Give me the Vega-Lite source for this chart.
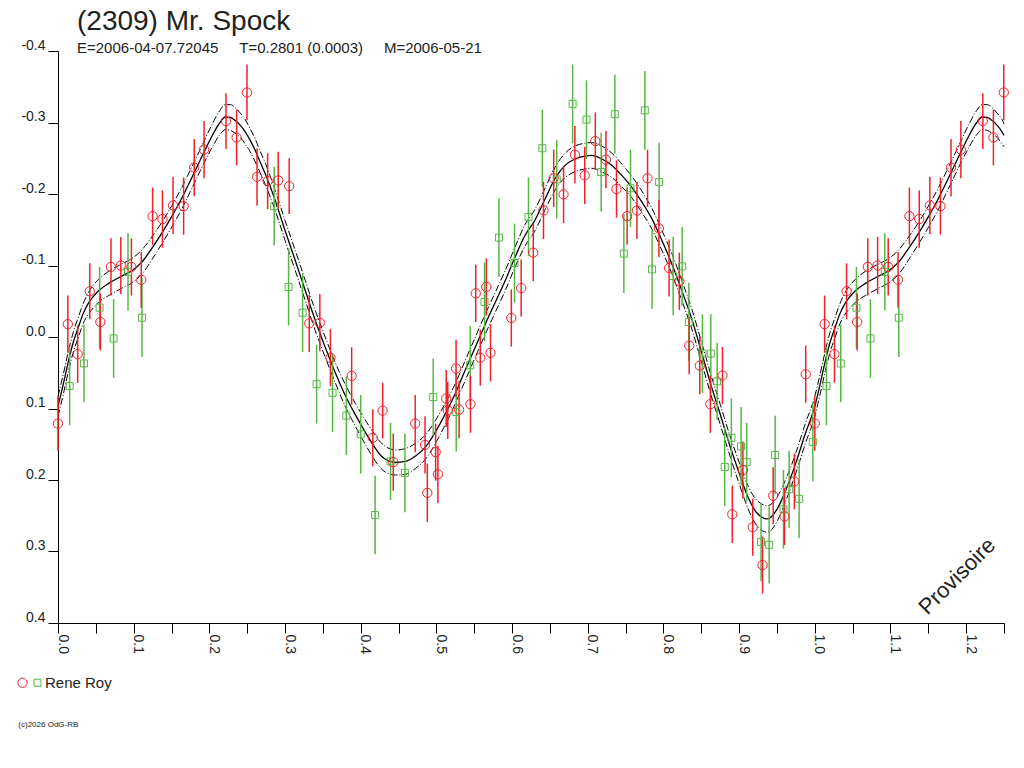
{
  "$schema": "https://vega.github.io/schema/vega-lite/v6.json",
  "description": "Lightcurve of (2309) Mr. Spock, magnitude vs rotational phase.",
  "autosize": "none",
  "width": 946,
  "height": 572,
  "padding": {"left": 58, "top": 51, "right": 20, "bottom": 145},
  "background": "white",
  "title": {
    "text": "(2309) Mr. Spock",
    "subtitle": "E=2006-04-07.72045\u00a0\u00a0\u00a0\u00a0\u00a0T=0.2801 (0.0003)\u00a0\u00a0\u00a0\u00a0\u00a0M=2006-05-21",
    "anchor": "start",
    "frame": "group",
    "dx": 19,
    "offset": -18,
    "font": "Liberation Sans",
    "fontSize": 28,
    "fontWeight": "normal",
    "color": "#222",
    "subtitleFont": "Liberation Sans",
    "subtitleFontSize": 15,
    "subtitleColor": "#222",
    "subtitlePadding": 5
  },
  "datasets": {
    "fit": [
      {"p": 0.000, "m": 0.097, "u": 0.083, "l": 0.111},
      {"p": 0.007, "m": 0.066, "u": 0.052, "l": 0.080},
      {"p": 0.014, "m": 0.033, "u": 0.019, "l": 0.047},
      {"p": 0.020, "m": 0.008, "u": -0.006, "l": 0.022},
      {"p": 0.027, "m": -0.014, "u": -0.028, "l": 0.000},
      {"p": 0.033, "m": -0.032, "u": -0.046, "l": -0.018},
      {"p": 0.040, "m": -0.047, "u": -0.062, "l": -0.032},
      {"p": 0.047, "m": -0.057, "u": -0.073, "l": -0.041},
      {"p": 0.054, "m": -0.065, "u": -0.081, "l": -0.049},
      {"p": 0.067, "m": -0.075, "u": -0.092, "l": -0.058},
      {"p": 0.084, "m": -0.085, "u": -0.102, "l": -0.068},
      {"p": 0.098, "m": -0.093, "u": -0.110, "l": -0.076},
      {"p": 0.111, "m": -0.105, "u": -0.122, "l": -0.088},
      {"p": 0.124, "m": -0.124, "u": -0.140, "l": -0.108},
      {"p": 0.137, "m": -0.145, "u": -0.160, "l": -0.130},
      {"p": 0.150, "m": -0.168, "u": -0.183, "l": -0.153},
      {"p": 0.163, "m": -0.193, "u": -0.208, "l": -0.178},
      {"p": 0.176, "m": -0.221, "u": -0.236, "l": -0.206},
      {"p": 0.190, "m": -0.252, "u": -0.267, "l": -0.237},
      {"p": 0.202, "m": -0.278, "u": -0.294, "l": -0.262},
      {"p": 0.214, "m": -0.300, "u": -0.317, "l": -0.283},
      {"p": 0.221, "m": -0.3075, "u": -0.325, "l": -0.290},
      {"p": 0.228, "m": -0.307, "u": -0.325, "l": -0.289},
      {"p": 0.234, "m": -0.303, "u": -0.321, "l": -0.285},
      {"p": 0.241, "m": -0.296, "u": -0.313, "l": -0.279},
      {"p": 0.2474, "m": -0.287, "u": -0.304, "l": -0.270},
      {"p": 0.254, "m": -0.275, "u": -0.291, "l": -0.259},
      {"p": 0.2606, "m": -0.261, "u": -0.277, "l": -0.245},
      {"p": 0.267, "m": -0.245, "u": -0.260, "l": -0.230},
      {"p": 0.274, "m": -0.228, "u": -0.243, "l": -0.213},
      {"p": 0.287, "m": -0.191, "u": -0.205, "l": -0.177},
      {"p": 0.300, "m": -0.149, "u": -0.163, "l": -0.135},
      {"p": 0.3135, "m": -0.107, "u": -0.121, "l": -0.093},
      {"p": 0.3267, "m": -0.065, "u": -0.079, "l": -0.051},
      {"p": 0.340, "m": -0.023, "u": -0.037, "l": -0.009},
      {"p": 0.353, "m": 0.014, "u": 0.000, "l": 0.028},
      {"p": 0.366, "m": 0.049, "u": 0.035, "l": 0.063},
      {"p": 0.3795, "m": 0.0815, "u": 0.066, "l": 0.097},
      {"p": 0.393, "m": 0.109, "u": 0.093, "l": 0.125},
      {"p": 0.406, "m": 0.133, "u": 0.116, "l": 0.150},
      {"p": 0.419, "m": 0.155, "u": 0.137, "l": 0.173},
      {"p": 0.426, "m": 0.165, "u": 0.147, "l": 0.183},
      {"p": 0.4326, "m": 0.171, "u": 0.153, "l": 0.189},
      {"p": 0.446, "m": 0.1755, "u": 0.158, "l": 0.193},
      {"p": 0.459, "m": 0.174, "u": 0.156, "l": 0.192},
      {"p": 0.472, "m": 0.1667, "u": 0.149, "l": 0.184},
      {"p": 0.4855, "m": 0.154, "u": 0.137, "l": 0.171},
      {"p": 0.4986, "m": 0.133, "u": 0.117, "l": 0.149},
      {"p": 0.512, "m": 0.107, "u": 0.092, "l": 0.122},
      {"p": 0.525, "m": 0.079, "u": 0.065, "l": 0.093},
      {"p": 0.538, "m": 0.0466, "u": 0.033, "l": 0.061},
      {"p": 0.5515, "m": 0.014, "u": 0.000, "l": 0.028},
      {"p": 0.565, "m": -0.019, "u": -0.033, "l": -0.005},
      {"p": 0.578, "m": -0.049, "u": -0.063, "l": -0.035},
      {"p": 0.591, "m": -0.079, "u": -0.093, "l": -0.065},
      {"p": 0.604, "m": -0.112, "u": -0.126, "l": -0.098},
      {"p": 0.617, "m": -0.142, "u": -0.157, "l": -0.127},
      {"p": 0.630, "m": -0.163, "u": -0.178, "l": -0.148},
      {"p": 0.6436, "m": -0.193, "u": -0.208, "l": -0.178},
      {"p": 0.657, "m": -0.222, "u": -0.238, "l": -0.206},
      {"p": 0.670, "m": -0.240, "u": -0.257, "l": -0.223},
      {"p": 0.683, "m": -0.249, "u": -0.267, "l": -0.231},
      {"p": 0.696, "m": -0.253, "u": -0.271, "l": -0.235},
      {"p": 0.705, "m": -0.254, "u": -0.272, "l": -0.236},
      {"p": 0.7186, "m": -0.249, "u": -0.267, "l": -0.231},
      {"p": 0.732, "m": -0.240, "u": -0.257, "l": -0.223},
      {"p": 0.745, "m": -0.226, "u": -0.242, "l": -0.210},
      {"p": 0.758, "m": -0.2097, "u": -0.225, "l": -0.195},
      {"p": 0.7715, "m": -0.189, "u": -0.204, "l": -0.174},
      {"p": 0.7847, "m": -0.1655, "u": -0.180, "l": -0.151},
      {"p": 0.798, "m": -0.135, "u": -0.149, "l": -0.121},
      {"p": 0.811, "m": -0.1026, "u": -0.117, "l": -0.089},
      {"p": 0.8243, "m": -0.065, "u": -0.079, "l": -0.051},
      {"p": 0.8375, "m": -0.025, "u": -0.039, "l": -0.011},
      {"p": 0.850, "m": 0.020, "u": 0.006, "l": 0.034},
      {"p": 0.8625, "m": 0.066, "u": 0.052, "l": 0.080},
      {"p": 0.875, "m": 0.108, "u": 0.094, "l": 0.122},
      {"p": 0.8875, "m": 0.151, "u": 0.137, "l": 0.165},
      {"p": 0.900, "m": 0.190, "u": 0.175, "l": 0.205},
      {"p": 0.9125, "m": 0.226, "u": 0.210, "l": 0.242},
      {"p": 0.925, "m": 0.248, "u": 0.230, "l": 0.266},
      {"p": 0.9375, "m": 0.2545, "u": 0.236, "l": 0.273},
      {"p": 0.950, "m": 0.241, "u": 0.224, "l": 0.258},
      {"p": 0.9625, "m": 0.212, "u": 0.197, "l": 0.227},
      {"p": 0.975, "m": 0.176, "u": 0.162, "l": 0.190},
      {"p": 0.9875, "m": 0.135, "u": 0.121, "l": 0.149},
      {"p": 1.000, "m": 0.097, "u": 0.083, "l": 0.111},
      {"p": 1.007, "m": 0.066, "u": 0.052, "l": 0.080},
      {"p": 1.014, "m": 0.033, "u": 0.019, "l": 0.047},
      {"p": 1.020, "m": 0.008, "u": -0.006, "l": 0.022},
      {"p": 1.027, "m": -0.014, "u": -0.028, "l": 0.000},
      {"p": 1.033, "m": -0.032, "u": -0.046, "l": -0.018},
      {"p": 1.040, "m": -0.047, "u": -0.062, "l": -0.032},
      {"p": 1.047, "m": -0.057, "u": -0.073, "l": -0.041},
      {"p": 1.054, "m": -0.065, "u": -0.081, "l": -0.049},
      {"p": 1.067, "m": -0.075, "u": -0.092, "l": -0.058},
      {"p": 1.084, "m": -0.085, "u": -0.102, "l": -0.068},
      {"p": 1.098, "m": -0.093, "u": -0.110, "l": -0.076},
      {"p": 1.111, "m": -0.105, "u": -0.122, "l": -0.088},
      {"p": 1.124, "m": -0.124, "u": -0.140, "l": -0.108},
      {"p": 1.137, "m": -0.145, "u": -0.160, "l": -0.130},
      {"p": 1.150, "m": -0.168, "u": -0.183, "l": -0.153},
      {"p": 1.163, "m": -0.193, "u": -0.208, "l": -0.178},
      {"p": 1.176, "m": -0.221, "u": -0.236, "l": -0.206},
      {"p": 1.190, "m": -0.252, "u": -0.267, "l": -0.237},
      {"p": 1.202, "m": -0.278, "u": -0.294, "l": -0.262},
      {"p": 1.214, "m": -0.300, "u": -0.317, "l": -0.283},
      {"p": 1.221, "m": -0.3075, "u": -0.325, "l": -0.290},
      {"p": 1.228, "m": -0.307, "u": -0.325, "l": -0.289},
      {"p": 1.234, "m": -0.303, "u": -0.321, "l": -0.285},
      {"p": 1.241, "m": -0.296, "u": -0.313, "l": -0.279},
      {"p": 1.2474, "m": -0.287, "u": -0.304, "l": -0.270},
      {"p": 1.250, "m": -0.282, "u": -0.298, "l": -0.266}
    ],
    "pts": [
      {"p": 0.0154, "m": 0.0685, "e": 0.055, "o": "b"},
      {"p": 0.0343, "m": 0.037, "e": 0.054, "o": "b"},
      {"p": 0.055, "m": -0.041, "e": 0.057, "o": "b"},
      {"p": 0.0735, "m": 0.002, "e": 0.055, "o": "b"},
      {"p": 0.0925, "m": -0.091, "e": 0.054, "o": "b"},
      {"p": 0.111, "m": -0.027, "e": 0.055, "o": "b"},
      {"p": 0.2857, "m": -0.183, "e": 0.055, "o": "b"},
      {"p": 0.3047, "m": -0.070, "e": 0.054, "o": "b"},
      {"p": 0.3232, "m": -0.034, "e": 0.055, "o": "b"},
      {"p": 0.3417, "m": 0.066, "e": 0.055, "o": "b"},
      {"p": 0.3628, "m": 0.078, "e": 0.055, "o": "b"},
      {"p": 0.381, "m": 0.110, "e": 0.055, "o": "b"},
      {"p": 0.400, "m": 0.136, "e": 0.055, "o": "b"},
      {"p": 0.419, "m": 0.249, "e": 0.055, "o": "b"},
      {"p": 0.4394, "m": 0.174, "e": 0.054, "o": "b"},
      {"p": 0.4584, "m": 0.190, "e": 0.055, "o": "b"},
      {"p": 0.4958, "m": 0.084, "e": 0.054, "o": "b"},
      {"p": 0.5262, "m": 0.105, "e": 0.055, "o": "b"},
      {"p": 0.5447, "m": 0.0396, "e": 0.055, "o": "b"},
      {"p": 0.5636, "m": -0.049, "e": 0.055, "o": "b"},
      {"p": 0.5826, "m": -0.139, "e": 0.055, "o": "b"},
      {"p": 0.6032, "m": -0.1035, "e": 0.055, "o": "b"},
      {"p": 0.6217, "m": -0.168, "e": 0.055, "o": "b"},
      {"p": 0.640, "m": -0.264, "e": 0.054, "o": "b"},
      {"p": 0.659, "m": -0.2205, "e": 0.055, "o": "b"},
      {"p": 0.680, "m": -0.326, "e": 0.055, "o": "b"},
      {"p": 0.6983, "m": -0.304, "e": 0.055, "o": "b"},
      {"p": 0.7177, "m": -0.2306, "e": 0.055, "o": "b"},
      {"p": 0.7358, "m": -0.3117, "e": 0.055, "o": "b"},
      {"p": 0.7477, "m": -0.1166, "e": 0.055, "o": "b"},
      {"p": 0.7565, "m": -0.208, "e": 0.054, "o": "b"},
      {"p": 0.7754, "m": -0.317, "e": 0.055, "o": "b"},
      {"p": 0.785, "m": -0.0946, "e": 0.055, "o": "b"},
      {"p": 0.7943, "m": -0.2167, "e": 0.055, "o": "b"},
      {"p": 0.8128, "m": -0.0853, "e": 0.055, "o": "b"},
      {"p": 0.8247, "m": -0.0988, "e": 0.055, "o": "b"},
      {"p": 0.8336, "m": -0.021, "e": 0.055, "o": "b"},
      {"p": 0.8515, "m": 0.0232, "e": 0.055, "o": "b"},
      {"p": 0.8626, "m": 0.0232, "e": 0.055, "o": "b"},
      {"p": 0.871, "m": 0.062, "e": 0.054, "o": "b"},
      {"p": 0.881, "m": 0.1817, "e": 0.055, "o": "b"},
      {"p": 0.8898, "m": 0.141, "e": 0.055, "o": "b"},
      {"p": 0.9026, "m": 0.153, "e": 0.055, "o": "b"},
      {"p": 0.910, "m": 0.175, "e": 0.055, "o": "b"},
      {"p": 0.929, "m": 0.2866, "e": 0.055, "o": "b"},
      {"p": 0.9397, "m": 0.2907, "e": 0.054, "o": "b"},
      {"p": 0.9476, "m": 0.165, "e": 0.055, "o": "b"},
      {"p": 0.9586, "m": 0.241, "e": 0.055, "o": "b"},
      {"p": 0.9661, "m": 0.213, "e": 0.054, "o": "b"},
      {"p": 0.9793, "m": 0.2264, "e": 0.055, "o": "b"},
      {"p": 0.9974, "m": 0.1468, "e": 0.055, "o": "b"},
      {"p": 1.0154, "m": 0.0685, "e": 0.055, "o": "b"},
      {"p": 1.0343, "m": 0.037, "e": 0.054, "o": "b"},
      {"p": 1.055, "m": -0.041, "e": 0.057, "o": "b"},
      {"p": 1.0735, "m": 0.002, "e": 0.055, "o": "b"},
      {"p": 1.0925, "m": -0.091, "e": 0.054, "o": "b"},
      {"p": 1.111, "m": -0.027, "e": 0.055, "o": "b"},
      {"p": 0.000, "m": 0.121, "e": 0.038, "o": "a"},
      {"p": 0.013, "m": -0.018, "e": 0.040, "o": "a"},
      {"p": 0.026, "m": 0.024, "e": 0.040, "o": "a"},
      {"p": 0.042, "m": -0.064, "e": 0.039, "o": "a"},
      {"p": 0.056, "m": -0.021, "e": 0.040, "o": "a"},
      {"p": 0.070, "m": -0.098, "e": 0.040, "o": "a"},
      {"p": 0.083, "m": -0.100, "e": 0.040, "o": "a"},
      {"p": 0.097, "m": -0.098, "e": 0.040, "o": "a"},
      {"p": 0.110, "m": -0.080, "e": 0.039, "o": "a"},
      {"p": 0.125, "m": -0.169, "e": 0.040, "o": "a"},
      {"p": 0.138, "m": -0.165, "e": 0.040, "o": "a"},
      {"p": 0.152, "m": -0.184, "e": 0.040, "o": "a"},
      {"p": 0.166, "m": -0.183, "e": 0.040, "o": "a"},
      {"p": 0.180, "m": -0.237, "e": 0.040, "o": "a"},
      {"p": 0.193, "m": -0.262, "e": 0.040, "o": "a"},
      {"p": 0.222, "m": -0.302, "e": 0.039, "o": "a"},
      {"p": 0.236, "m": -0.279, "e": 0.039, "o": "a"},
      {"p": 0.2497, "m": -0.342, "e": 0.039, "o": "a"},
      {"p": 0.263, "m": -0.224, "e": 0.040, "o": "a"},
      {"p": 0.277, "m": -0.218, "e": 0.039, "o": "a"},
      {"p": 0.291, "m": -0.219, "e": 0.040, "o": "a"},
      {"p": 0.3055, "m": -0.211, "e": 0.039, "o": "a"},
      {"p": 0.332, "m": -0.019, "e": 0.040, "o": "a"},
      {"p": 0.346, "m": -0.020, "e": 0.040, "o": "a"},
      {"p": 0.360, "m": 0.029, "e": 0.040, "o": "a"},
      {"p": 0.388, "m": 0.0545, "e": 0.040, "o": "a"},
      {"p": 0.416, "m": 0.141, "e": 0.040, "o": "a"},
      {"p": 0.429, "m": 0.103, "e": 0.039, "o": "a"},
      {"p": 0.443, "m": 0.175, "e": 0.040, "o": "a"},
      {"p": 0.472, "m": 0.121, "e": 0.040, "o": "a"},
      {"p": 0.485, "m": 0.151, "e": 0.040, "o": "a"},
      {"p": 0.488, "m": 0.218, "e": 0.041, "o": "a"},
      {"p": 0.499, "m": 0.161, "e": 0.040, "o": "a"},
      {"p": 0.502, "m": 0.192, "e": 0.040, "o": "a"},
      {"p": 0.513, "m": 0.086, "e": 0.040, "o": "a"},
      {"p": 0.515, "m": 0.1025, "e": 0.040, "o": "a"},
      {"p": 0.526, "m": 0.044, "e": 0.040, "o": "a"},
      {"p": 0.530, "m": 0.1015, "e": 0.040, "o": "a"},
      {"p": 0.545, "m": 0.094, "e": 0.040, "o": "a"},
      {"p": 0.552, "m": -0.061, "e": 0.040, "o": "a"},
      {"p": 0.558, "m": 0.029, "e": 0.039, "o": "a"},
      {"p": 0.566, "m": -0.070, "e": 0.040, "o": "a"},
      {"p": 0.5715, "m": 0.022, "e": 0.040, "o": "a"},
      {"p": 0.599, "m": -0.0266, "e": 0.040, "o": "a"},
      {"p": 0.612, "m": -0.0685, "e": 0.040, "o": "a"},
      {"p": 0.628, "m": -0.118, "e": 0.040, "o": "a"},
      {"p": 0.6415, "m": -0.177, "e": 0.040, "o": "a"},
      {"p": 0.655, "m": -0.222, "e": 0.040, "o": "a"},
      {"p": 0.668, "m": -0.1995, "e": 0.040, "o": "a"},
      {"p": 0.683, "m": -0.255, "e": 0.040, "o": "a"},
      {"p": 0.696, "m": -0.226, "e": 0.040, "o": "a"},
      {"p": 0.710, "m": -0.274, "e": 0.040, "o": "a"},
      {"p": 0.724, "m": -0.248, "e": 0.040, "o": "a"},
      {"p": 0.738, "m": -0.207, "e": 0.040, "o": "a"},
      {"p": 0.752, "m": -0.169, "e": 0.040, "o": "a"},
      {"p": 0.765, "m": -0.177, "e": 0.040, "o": "a"},
      {"p": 0.779, "m": -0.222, "e": 0.040, "o": "a"},
      {"p": 0.794, "m": -0.152, "e": 0.040, "o": "a"},
      {"p": 0.8075, "m": -0.0965, "e": 0.040, "o": "a"},
      {"p": 0.821, "m": -0.078, "e": 0.040, "o": "a"},
      {"p": 0.834, "m": 0.012, "e": 0.040, "o": "a"},
      {"p": 0.848, "m": 0.040, "e": 0.040, "o": "a"},
      {"p": 0.862, "m": 0.094, "e": 0.040, "o": "a"},
      {"p": 0.878, "m": 0.054, "e": 0.040, "o": "a"},
      {"p": 0.891, "m": 0.248, "e": 0.040, "o": "a"},
      {"p": 0.905, "m": 0.186, "e": 0.040, "o": "a"},
      {"p": 0.918, "m": 0.266, "e": 0.040, "o": "a"},
      {"p": 0.931, "m": 0.319, "e": 0.040, "o": "a"},
      {"p": 0.945, "m": 0.222, "e": 0.040, "o": "a"},
      {"p": 0.960, "m": 0.251, "e": 0.040, "o": "a"},
      {"p": 0.973, "m": 0.202, "e": 0.039, "o": "a"},
      {"p": 0.988, "m": 0.052, "e": 0.040, "o": "a"},
      {"p": 1.000, "m": 0.121, "e": 0.038, "o": "a"},
      {"p": 1.013, "m": -0.018, "e": 0.040, "o": "a"},
      {"p": 1.026, "m": 0.024, "e": 0.040, "o": "a"},
      {"p": 1.042, "m": -0.064, "e": 0.039, "o": "a"},
      {"p": 1.056, "m": -0.021, "e": 0.040, "o": "a"},
      {"p": 1.070, "m": -0.098, "e": 0.040, "o": "a"},
      {"p": 1.083, "m": -0.100, "e": 0.040, "o": "a"},
      {"p": 1.097, "m": -0.098, "e": 0.040, "o": "a"},
      {"p": 1.110, "m": -0.080, "e": 0.039, "o": "a"},
      {"p": 1.125, "m": -0.169, "e": 0.040, "o": "a"},
      {"p": 1.138, "m": -0.165, "e": 0.040, "o": "a"},
      {"p": 1.152, "m": -0.184, "e": 0.040, "o": "a"},
      {"p": 1.166, "m": -0.183, "e": 0.040, "o": "a"},
      {"p": 1.180, "m": -0.237, "e": 0.040, "o": "a"},
      {"p": 1.193, "m": -0.262, "e": 0.040, "o": "a"},
      {"p": 1.222, "m": -0.302, "e": 0.039, "o": "a"},
      {"p": 1.236, "m": -0.279, "e": 0.039, "o": "a"},
      {"p": 1.2497, "m": -0.342, "e": 0.039, "o": "a"}
    ],
    "notes": [
      {"t": "Provisoire", "p": 1.188, "m": 0.3345},
      {"t": "(c)2026 OdG-RB", "p": -0.0524, "m": 0.5456}
    ]
  },
  "encoding": {
    "x": {
      "field": "p",
      "type": "quantitative",
      "title": null,
      "scale": {"domain": [0, 1.25], "nice": false, "zero": false},
      "axis": {
        "values": [0, 0.05, 0.1, 0.15, 0.2, 0.25, 0.3, 0.35, 0.4, 0.45, 0.5, 0.55, 0.6, 0.65, 0.7, 0.75, 0.8, 0.85, 0.9, 0.95, 1.0, 1.05, 1.1, 1.15, 1.2, 1.25],
        "labelExpr": "abs(datum.value * 10 - round(datum.value * 10)) < 0.01 ? format(datum.value, '.1f') : ''",
        "labelAngle": 90,
        "labelAlign": "left",
        "labelBaseline": "alphabetic",
        "labelPadding": 1,
        "labelFlush": false,
        "labelOverlap": false,
        "tickSize": 10
      }
    },
    "y": {
      "field": "m",
      "type": "quantitative",
      "title": null,
      "scale": {"domain": [-0.4, 0.4], "reverse": true, "nice": false, "zero": false},
      "axis": {
        "values": [-0.4, -0.3, -0.2, -0.1, 0, 0.1, 0.2, 0.3, 0.4],
        "labelExpr": "replace(format(datum.value, '.1f'), '\u2212', '-')",
        "labelBaseline": "alphabetic",
        "labelOffset": -2,
        "labelPadding": 3,
        "tickSize": 10
      }
    }
  },
  "layer": [
    {
      "data": {"name": "fit"},
      "mark": {"type": "line", "interpolate": "monotone", "color": "#000", "strokeWidth": 1, "strokeDash": [7, 2, 1, 2]},
      "encoding": {
        "y": {"field": "u", "type": "quantitative", "title": null}
      }
    },
    {
      "data": {"name": "fit"},
      "mark": {"type": "line", "interpolate": "monotone", "color": "#000", "strokeWidth": 1, "strokeDash": [7, 2, 1, 2]},
      "encoding": {
        "y": {"field": "l", "type": "quantitative", "title": null}
      }
    },
    {
      "data": {"name": "fit"},
      "mark": {"type": "line", "interpolate": "monotone", "color": "#000", "strokeWidth": 1.3},
      "encoding": {}
    },
    {
      "data": {"name": "pts"},
      "transform": [{"filter": "datum.o == 'b'"}],
      "mark": {"type": "errorbar", "color": "#55b845", "thickness": 1.5},
      "encoding": {
        "yError": {"field": "e"}
      }
    },
    {
      "data": {"name": "pts"},
      "transform": [{"filter": "datum.o == 'a'"}],
      "mark": {"type": "errorbar", "color": "#f0202a", "thickness": 1.5},
      "encoding": {
        "yError": {"field": "e"}
      }
    },
    {
      "data": {"name": "pts"},
      "mark": {"type": "point", "filled": false, "strokeWidth": 1, "opacity": 1},
      "encoding": {
        "color": {
          "field": "o",
          "type": "nominal",
          "scale": {"domain": ["a", "b"], "range": ["#f0202a", "#55b845"]},
          "legend": {
            "orient": "none",
            "legendX": -43,
            "legendY": 624,
            "direction": "horizontal",
            "title": null,
            "padding": 0,
            "columnPadding": 0,
            "labelOffset": 0,
            "labelFont": "Liberation Sans",
            "labelFontSize": 15,
            "labelColor": "#222",
            "symbolStrokeWidth": 1,
            "labelExpr": "datum.label == 'b' ? 'Rene Roy' : ''"
          }
        },
        "shape": {
          "field": "o",
          "type": "nominal",
          "scale": {"domain": ["a", "b"], "range": ["circle", "square"]}
        },
        "size": {
          "field": "o",
          "type": "nominal",
          "scale": {"domain": ["a", "b"], "range": [86, 49]}
        }
      }
    },
    {
      "data": {"name": "notes"},
      "transform": [{"filter": "datum.t == 'Provisoire'"}],
      "mark": {"type": "text", "angle": 315, "align": "center", "baseline": "middle", "font": "Liberation Sans", "fontSize": 22, "color": "#222"},
      "encoding": {
        "text": {"field": "t"}
      }
    },
    {
      "data": {"name": "notes"},
      "transform": [{"filter": "datum.t != 'Provisoire'"}],
      "mark": {"type": "text", "align": "left", "baseline": "alphabetic", "font": "Liberation Sans", "fontSize": 8, "color": "#222"},
      "encoding": {
        "text": {"field": "t"}
      }
    }
  ],
  "config": {
    "view": {"stroke": null},
    "axis": {
      "grid": false,
      "domainColor": "#000",
      "domainWidth": 1,
      "tickColor": "#000",
      "tickWidth": 1,
      "labelFont": "Liberation Sans",
      "labelFontSize": 14,
      "labelColor": "#222"
    }
  }
}
